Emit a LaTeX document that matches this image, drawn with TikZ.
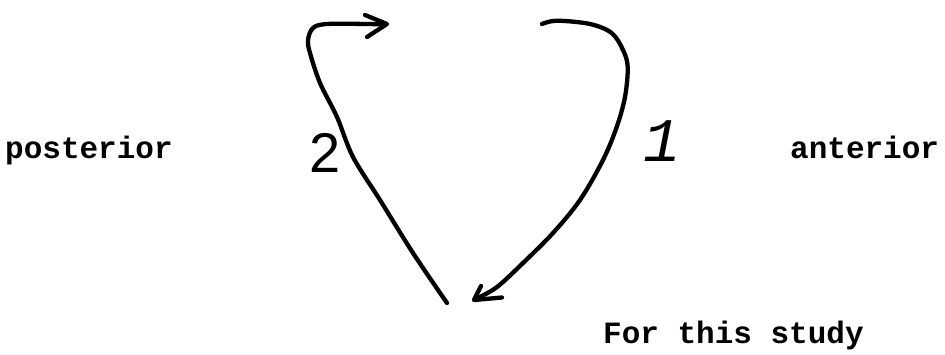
\documentclass[tikz,border=0pt]{standalone}
\usepackage{fontspec}
\setmonofont{Liberation Mono}
\newfontfamily\digitsans{Liberation Sans}
\begin{document}
\begin{tikzpicture}[x=1pt,y=-1pt,
  stroke/.style={line width=4.3pt, line cap=round, line join=round},
  typed/.style={inner sep=0pt, anchor=base west, font=\ttfamily\bfseries\fontsize{31}{36}\selectfont},
  handnum/.style={inner sep=0pt, font=\digitsans\fontsize{56}{60}\selectfont}]
\useasboundingbox (0,0) rectangle (945,354);
% labels
\node[typed] (post) at (5,158) {posterior};
\node[typed] (ant) at (790,158) {anterior};
\node[typed] (study) at (603,343) {For this study};
\node[handnum] (two) at (325,153) {2};
\node[handnum, font=\ttfamily\itshape\fontsize{62}{66}\selectfont] (one) at (662,141) {1};
% end points
\coordinate (base2) at (447,303);
\coordinate (tip2) at (387,24);
\coordinate (start1) at (542,24);
\coordinate (tip1) at (474,300);
% path 2 (posterior loop)
\draw[stroke] plot[smooth, tension=0.55] coordinates {(447,303) (413,253) (380,200) (353,157) (337,117) (320,83) (310,53) (308,40) (313,28) (327,24) (367,24) (384,24.5)};
\draw[stroke] (365,15) -- (tip2) -- (367,37);
% path 1 (anterior loop)
\draw[stroke] plot[smooth, tension=0.55] coordinates {(542,24) (557,20.7) (590,24) (611.7,33) (623,50) (627.7,67) (625,97) (616.7,127) (603,160) (580,200) (553,233) (523,263) (497,287) (476,299)};
\draw[stroke] (481,286) -- (tip1) -- (502,297.5);
\end{tikzpicture}
\end{document}
